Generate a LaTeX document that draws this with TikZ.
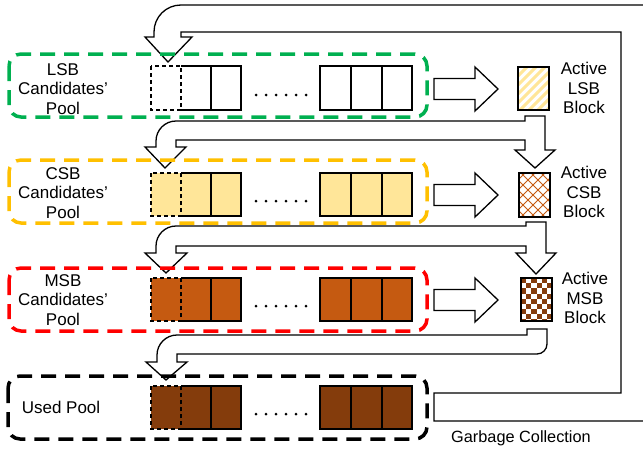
\documentclass[tikz,border=0pt]{standalone}
\usepackage{fontspec}
\setmainfont{Liberation Sans}
\definecolor{grn}{HTML}{00B050}
\definecolor{ylw}{HTML}{FFC000}
\definecolor{lyl}{HTML}{FFE699}
\definecolor{org}{HTML}{C55A11}
\definecolor{brn}{HTML}{843C0C}
\newcommand\mycellrow[3]{%
  \fill[#3] (151,#1) rectangle (241,#2);
  \fill[#3] (320,#1) rectangle (412,#2);
  \draw[dcell] (151,#1) rectangle (181,#2);
  \draw[cl] (181,#1) -- (241,#1) -- (241,#2) -- (181,#2) (211,#1) -- (211,#2);
  \draw[cl] (320,#1) rectangle (412,#2) (351,#1) -- (351,#2) (382,#1) -- (382,#2);
  \foreach \k in {0,...,5} \fill (256+10*\k,#2-15) circle (1.5pt);
}
\begin{document}
\begin{tikzpicture}[x=1pt,y=-1pt,
  lbl/.style={font=\fontsize{17}{19.5}\selectfont, align=center, inner sep=0pt},
  cl/.style={line width=1.3pt, line join=miter},
  dcell/.style={line width=1.2pt, dash pattern=on 4pt off 3pt},
  pool/.style={line width=3.5pt, dash pattern=on 15pt off 9pt, rounded corners=12pt},
  harrow/.style={draw, fill=white, line width=1.3pt, line join=miter},
  blk/.style={line width=1.3pt}]
\clip (0,0) rectangle (643,450);
\fill[white] (0,0) rectangle (643,450);

% garbage collection band
\draw[harrow] (434,393) -- (621,393) -- (621,32) -- (181,32) -- (181,37) -- (192,37)
  -- (168,62) -- (145,37) -- (154,37) -- (154,32)
  .. controls (154,17) and (166,5) .. (181,5) -- (660,5) -- (660,421) -- (434,421) -- cycle;
% band 1
\draw[harrow] (165,168) -- (186,147) -- (176,147) -- (176,140) -- (525,140) -- (525,150)
  -- (515,150) -- (535,168) -- (555,150) -- (545,150) -- (545,116) -- (525,116)
  -- (525,121) -- (176,121) .. controls (165,121) and (156,130) .. (156,141)
  -- (156,147) -- (145,147) -- cycle;
% band 2
\draw[harrow] (166,273) -- (187,253) -- (176,253) -- (176,246) -- (526,246) -- (526,253)
  -- (516,253) -- (536,274) -- (556,253) -- (546,253) -- (546,222) -- (526,222)
  -- (526,226) -- (176,226) .. controls (165,226) and (156,235) .. (156,246)
  -- (156,253) -- (145,253) -- cycle;
% band 3
\draw[harrow] (166,380) -- (187,362) -- (177,362) -- (177,354) -- (537,354)
  .. controls (542.5,354) and (547,349.5) .. (547,344) -- (547,329) -- (527,329)
  -- (527,335) -- (177,335) .. controls (166,335) and (157,344) .. (157,355)
  -- (157,362) -- (146,362) -- cycle;

% right block arrows
\foreach \c in {89,195,300}
  \draw[harrow] (434,\c-10.5) -- (475,\c-10.5) -- (475,\c-22) -- (498,\c)
    -- (475,\c+22) -- (475,\c+10.5) -- (434,\c+10.5) -- cycle;

% cells
\mycellrow{66}{110}{white}
\mycellrow{173}{216}{lyl}
\mycellrow{278}{321}{org}
\mycellrow{386}{429}{brn}

% pools
\draw[pool, draw=grn] (9,54) rectangle (427,117);
\draw[pool, draw=ylw] (9,160) rectangle (427,223);
\draw[pool, draw=red] (9,268) rectangle (427,331);
\draw[pool, draw=black] (8,376) rectangle (427,439);

% pool labels
\node[lbl] (lsbp) at (63,89) {LSB\\Candidates’\\Pool};
\node[lbl] (csbp) at (63,193) {CSB\\Candidates’\\Pool};
\node[lbl] (msbp) at (63,300) {MSB\\Candidates’\\Pool};
\node[lbl] (usedp) at (61,407) {Used Pool};

% active LSB block: stripes
\begin{scope}
  \clip (518,67) rectangle (549,110);
  \foreach \i in {-6,...,6} \draw[lyl, line width=3pt] (518+9*\i,112) -- ++(50,-50);
\end{scope}
\draw[blk] (518,67) rectangle (549,110);
% active CSB block: trellis
\begin{scope}
  \clip (519,173) rectangle (550,217);
  \foreach \i in {-6,...,6} {
    \draw[org, line width=0.9pt] (519+10*\i,219) -- ++(50,-50);
    \draw[org, line width=0.9pt] (519+10*\i,171) -- ++(50,50);
  }
\end{scope}
\draw[blk] (519,173) rectangle (550,217);
% active MSB block: checkerboard
\begin{scope}
  \clip (521,278) rectangle (552,321);
  \foreach \i in {0,...,5} \foreach \j in {0,...,8} {
    \pgfmathparse{int(mod(\i+\j,2))}
    \ifnum\pgfmathresult=0
      \fill[brn] (521+5.17*\i,278+5.17*\j) rectangle ++(5.17,5.17);
    \fi
  }
\end{scope}
\draw[blk] (521,278) rectangle (552,321);

% active labels
\node[lbl] (alsb) at (584,88) {Active\\LSB\\Block};
\node[lbl] (acsb) at (584,192) {Active\\CSB\\Block};
\node[lbl] (amsb) at (585,298) {Active\\MSB\\Block};
\node[font=\fontsize{16.3}{19}\selectfont, inner sep=0pt] (gc) at (521,438) {Garbage Collection};
\end{tikzpicture}
\end{document}
